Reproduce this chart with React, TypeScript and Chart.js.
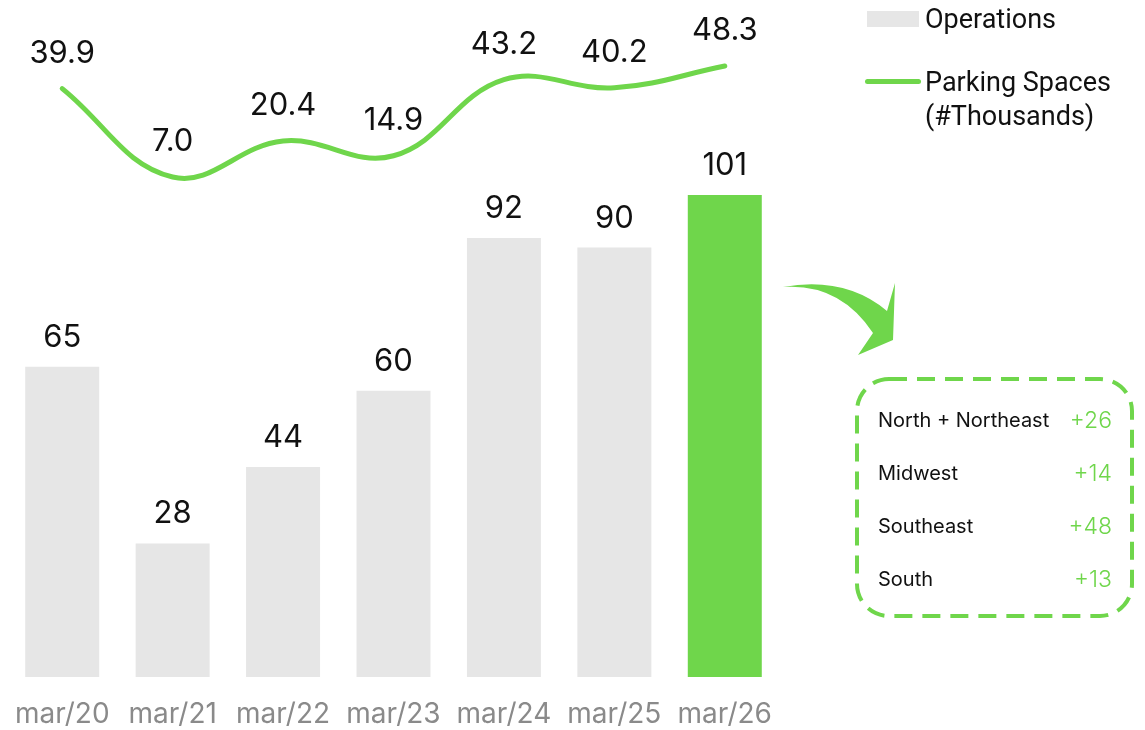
import React, { useEffect, useRef } from "react";
import { Chart, registerables } from "chart.js";

Chart.register(...registerables);

const categories = ["mar/20", "mar/21", "mar/22", "mar/23", "mar/24", "mar/25", "mar/26"];
const operations = [65, 28, 44, 60, 92, 90, 101];
const parkingSpaces = [39.9, 7.0, 20.4, 14.9, 43.2, 40.2, 48.3];
const regions = ["North + Northeast", "Midwest", "Southeast", "South"];
const regionAdds = ["+26", "+14", "+48", "+13"];

const GREEN = "#6fd64b";
const GRAY = "#e6e6e6";
const barColors = operations.map((_, i) => (i === operations.length - 1 ? GREEN : GRAY));

const valueLabels = {
  id: "valueLabels",
  afterDatasetsDraw(chart: any) {
    const ctx = chart.ctx;
    ctx.save();
    ctx.font = "400 31px Inter";
    ctx.fillStyle = "#111111";
    ctx.textAlign = "center";
    ctx.textBaseline = "alphabetic";
    const bars = chart.getDatasetMeta(0).data;
    bars.forEach((el: any, i: number) => {
      ctx.fillText(String(operations[i]), el.x, el.y - 20);
    });
    const pts = chart.getDatasetMeta(1).data;
    pts.forEach((el: any, i: number) => {
      ctx.fillText(parkingSpaces[i].toFixed(1), el.x, el.y - 26);
    });
    ctx.restore();
  },
};

export default function App() {
  const canvasRef = useRef<HTMLCanvasElement | null>(null);

  useEffect(() => {
    if (!canvasRef.current) return;
    const chart = new Chart(canvasRef.current, {
      type: "bar",
      data: {
        labels: categories,
        datasets: [
          {
            type: "bar",
            label: "Operations",
            data: operations,
            backgroundColor: barColors,
            borderWidth: 0,
            categoryPercentage: 1,
            barPercentage: 0.67,
            yAxisID: "y",
            order: 2,
          },
          {
            type: "line",
            label: "Parking Spaces (#Thousands)",
            data: parkingSpaces,
            borderColor: GREEN,
            borderWidth: 5,
            borderCapStyle: "round",
            pointRadius: 0,
            tension: 0.4,
            fill: false,
            yAxisID: "y1",
            order: 1,
          },
        ],
      },
      options: {
        responsive: false,
        animation: false,
        layout: { padding: { left: 7, right: 365, top: 0, bottom: 7 } },
        plugins: { legend: { display: false }, tooltip: { enabled: false } },
        scales: {
          x: {
            grid: { display: false, drawTicks: false },
            border: { display: false },
            ticks: {
              color: "#8a8a8a",
              font: { family: "Inter", size: 28, lineHeight: 1.857 },
              padding: 12,
            },
          },
          y: { display: false, min: 0, max: 141.87 },
          y1: { display: false, min: -179.03, max: 72.86 },
        },
      },
      plugins: [valueLabels],
    });
    return () => chart.destroy();
  }, []);

  const rowY = [420, 473, 526, 579];

  return (
    <div style={{ position: "absolute", left: 0, top: 0, width: 1145, height: 730, background: "#fff", overflow: "hidden" }}>
      <canvas ref={canvasRef} width={1145} height={760} style={{ position: "absolute", left: 0, top: 0 }} />
      {/* legend */}
      <div style={{ position: "absolute", left: 867, top: 11, width: 52, height: 16, background: GRAY }} />
      <div style={{ position: "absolute", left: 925, top: 3, fontFamily: "Roboto", fontSize: 27, lineHeight: "32px", color: "#111" }}>
        Operations
      </div>
      <div style={{ position: "absolute", left: 865, top: 79, width: 56, height: 5, borderRadius: 3, background: GREEN }} />
      <div style={{ position: "absolute", left: 925, top: 65, fontFamily: "Roboto", fontSize: 27, lineHeight: "34px", color: "#111" }}>
        Parking Spaces
        <br />
        (#Thousands)
      </div>
      <svg width={1145} height={730} style={{ position: "absolute", left: 0, top: 0 }}>
        <path
          d="M783,287 Q845,276 887,311 L895,283 L893,340 L858,355 L873,333 Q840,283 783,287 Z"
          fill={GREEN}
        />
        <rect
          x={857}
          y={379}
          width={275}
          height={237}
          rx={32}
          ry={32}
          fill="none"
          stroke={GREEN}
          strokeWidth={4}
          strokeDasharray="18 10"
        />
        {regions.map((r, i) => (
          <g key={r}>
            <text x={878} y={rowY[i]} dominantBaseline="central" fontFamily="Inter" fontSize={20} fill="#111">
              {r}
            </text>
            <text
              x={1112}
              y={rowY[i]}
              dominantBaseline="central"
              textAnchor="end"
              fontFamily="Inter"
              fontWeight={300}
              fontSize={23}
              fill={GREEN}
            >
              {regionAdds[i]}
            </text>
          </g>
        ))}
      </svg>
    </div>
  );
}
